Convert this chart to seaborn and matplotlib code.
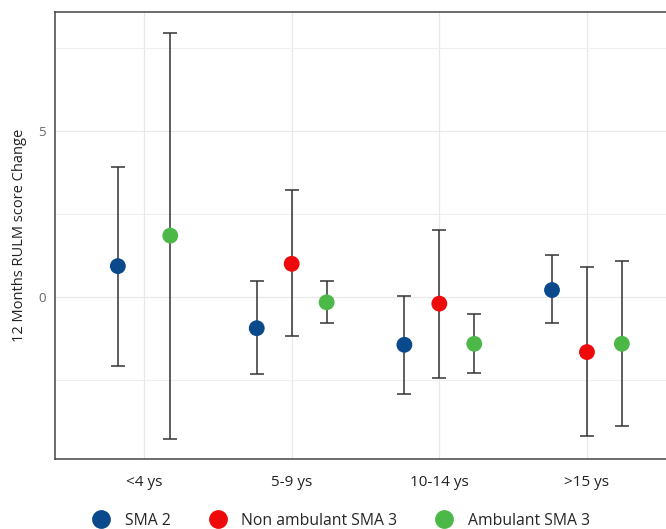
import numpy as np
import pandas as pd
import matplotlib.pyplot as plt
import seaborn as sns
from matplotlib.lines import Line2D

# --- DATA ---
age_groups = ["<4 ys", "5-9 ys", "10-14 ys", ">15 ys"]
groups = ["SMA 2", "Non ambulant SMA 3", "Ambulant SMA 3"]

sma2_mean = [0.92, -0.95, -1.45, 0.20]
sma2_low = [-2.09, -2.33, -2.94, -0.80]
sma2_high = [3.92, 0.48, 0.03, 1.27]

nonamb_mean = [np.nan, 0.99, -0.21, -1.67]
nonamb_low = [np.nan, -1.18, -2.44, -4.20]
nonamb_high = [np.nan, 3.20, 2.01, 0.89]

amb_mean = [1.84, -0.17, -1.42, -1.42]
amb_low = [-4.28, -0.80, -2.30, -3.90]
amb_high = [7.96, 0.48, -0.51, 1.07]

colors = {"SMA 2": "#0a4a8c", "Non ambulant SMA 3": "#ee0a0a", "Ambulant SMA 3": "#4cb848"}
DODGE = 0.71


def build_frame():
    rows = []
    series = [(sma2_mean, sma2_low, sma2_high),
              (nonamb_mean, nonamb_low, nonamb_high),
              (amb_mean, amb_low, amb_high)]
    for g, (m, lo, hi) in zip(groups, series):
        for i, age in enumerate(age_groups):
            if not np.isnan(m[i]):
                rows.append(dict(group=g, age=age, xi=i, mean=m[i], low=lo[i], high=hi[i]))
    df = pd.DataFrame(rows)
    # dodge like ggplot: split the width between the groups present at each x
    df["order"] = df["group"].map({g: k for k, g in enumerate(groups)})
    df = df.sort_values(["xi", "order"])
    df["n"] = df.groupby("xi")["group"].transform("count")
    df["k"] = df.groupby("xi").cumcount()
    df["x"] = df["xi"] - DODGE / 2 + DODGE / (2 * df["n"]) + df["k"] * DODGE / df["n"]
    return df


df = build_frame()

sns.set_theme(style="white")
plt.rcParams["font.family"] = ["Open Sans", "DejaVu Sans"]

fig = plt.figure(figsize=(6.66, 5.29), dpi=100)
ax = fig.add_axes([0.0833, 0.1318, 0.931, 0.845])

ax.errorbar(df["x"], df["mean"], yerr=[df["mean"] - df["low"], df["high"] - df["mean"]],
            fmt="none", ecolor="#333333", elinewidth=1.1, capsize=5.2, capthick=1.1, zorder=2)
sns.scatterplot(data=df, x="x", y="mean", hue="group", hue_order=groups, palette=colors,
                s=130, edgecolor="none", legend=False, ax=ax, zorder=3)

ax.set_xlim(-0.6, 3.6)
ax.set_ylim(-4.9, 8.57)
ax.set_xticks(range(len(age_groups)))
ax.set_xticklabels(age_groups, fontsize=11, color="#222222")
ax.set_yticks([0, 5])
ax.set_yticklabels(["0", "5"], fontsize=9.5, color="#666666")
ax.set_yticks([-2.5, 2.5, 7.5], minor=True)
ax.grid(which="major", color="#e8e8e8", lw=0.9)
ax.grid(which="minor", axis="y", color="#efefef", lw=0.8)
ax.tick_params(axis="both", which="major", length=3, width=0.8, color="#333333", pad=4)
ax.tick_params(axis="x", pad=8)
ax.tick_params(which="minor", length=0)
for sp in ax.spines.values():
    sp.set_color("#444444")
    sp.set_linewidth(1.1)

ax.set_xlabel("")
ax.set_ylabel("12 Months RULM score Change", fontsize=10.5, color="#222222", labelpad=8)

handles = [Line2D([0], [0], marker="o", ls="none", markersize=12.5, color=colors[g], label=g)
           for g in groups]
fig.legend(handles=handles, loc="center", bbox_to_anchor=(0.507, 0.016), ncol=3, frameon=False,
           fontsize=11.3, handletextpad=0.5, columnspacing=2.0)

fig.savefig("out.png", dpi=100)
